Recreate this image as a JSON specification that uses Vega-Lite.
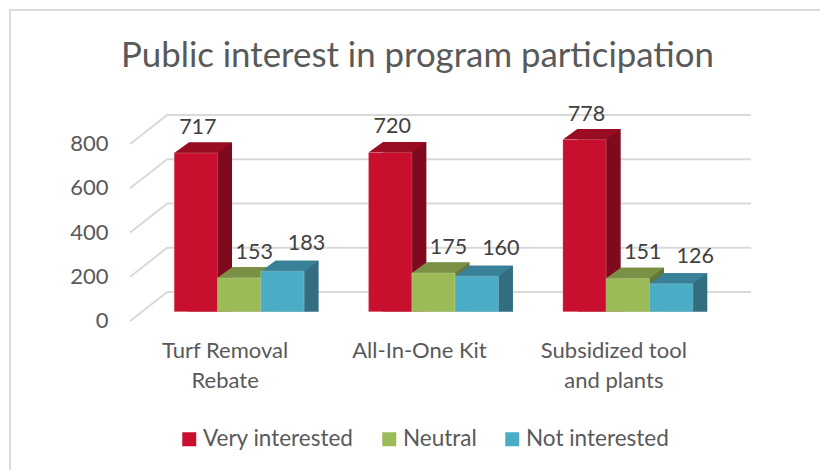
{
"$schema":"https://vega.github.io/schema/vega-lite/v6.json",
"width":815,"height":465,"autosize":"none","padding":{"left":10,"top":10,"right":0,"bottom":0},
"background":"white",
"title":{"text":"Public interest in program participation","font":"Lato","fontSize":34.8,"fontWeight":"normal","color":"#595959","anchor":"middle","frame":"group","baseline":"middle","offset":-45,"dy":37},
"config":{"view":{"stroke":"#dcdcdc","strokeWidth":2},"font":"Lato"},
"datasets":{
"rows":[
{"program":"Turf Removal Rebate","response":"Very interested","count":717},
{"program":"Turf Removal Rebate","response":"Neutral","count":153},
{"program":"Turf Removal Rebate","response":"Not interested","count":183},
{"program":"All-In-One Kit","response":"Very interested","count":720},
{"program":"All-In-One Kit","response":"Neutral","count":175},
{"program":"All-In-One Kit","response":"Not interested","count":160},
{"program":"Subsidized tool and plants","response":"Very interested","count":778},
{"program":"Subsidized tool and plants","response":"Neutral","count":151},
{"program":"Subsidized tool and plants","response":"Not interested","count":126}],
"ticks":[{"tick":0},{"tick":200},{"tick":400},{"tick":600},{"tick":800}]},
"resolve":{"scale":{"color":"independent"}},
"layer":[
{"data":{"name":"ticks"},
 "mark":{"type":"point","shape":"M-109,9.3L-72,-19.7L512,-19.7","size":4,"filled":false,"opacity":1,"stroke":"#d9d9d9","strokeWidth":2},
 "encoding":{"x":{"datum":"Turf Removal Rebate","type":"nominal","scale":{"domain":["Turf Removal Rebate","All-In-One Kit","Subsidized tool and plants"],"range":[132,715],"paddingInner":0.331,"paddingOuter":0.1655}},
  "y":{"field":"tick","type":"quantitative","scale":{"domain":[0,800],"range":[301.7,124.7],"nice":false},
   "axis":{"title":null,"orient":"left","offset":-132,"values":[0,200,400,600,800],"domain":false,"ticks":false,"grid":false,"labelPadding":34,"labelOffset":8.8,"labelFontSize":22,"labelColor":"#595959","labelFont":"Lato","labelBound":false,"labelFlush":false,"labelOverlap":false}}}},
{"data":{"name":"rows"},"transform":[{"filter":"datum.response=='Very interested'"}],"mark":{"type":"bar","width":43.3,"xOffset":-28.8,"yOffset":-10.5,"y2Offset":-10.5,"color":"#800a1d"},
 "encoding":{"x":{"field":"program","type":"nominal","scale":{"domain":["Turf Removal Rebate","All-In-One Kit","Subsidized tool and plants"],"range":[132,715],"paddingInner":0.331,"paddingOuter":0.1655}},"y":{"field":"count","type":"quantitative","stack":null}}},
{"data":{"name":"rows"},"transform":[{"filter":"datum.response=='Neutral'"}],"mark":{"type":"bar","width":43.3,"xOffset":14.5,"yOffset":-10.5,"y2Offset":-10.5,"color":"#65773a"},
 "encoding":{"x":{"field":"program","type":"nominal","scale":{"domain":["Turf Removal Rebate","All-In-One Kit","Subsidized tool and plants"],"range":[132,715],"paddingInner":0.331,"paddingOuter":0.1655}},"y":{"field":"count","type":"quantitative","stack":null}}},
{"data":{"name":"rows"},"transform":[{"filter":"datum.response=='Not interested'"}],"mark":{"type":"bar","width":43.3,"xOffset":57.8,"yOffset":-10.5,"y2Offset":-10.5,"color":"#336e80"},
 "encoding":{"x":{"field":"program","type":"nominal","scale":{"domain":["Turf Removal Rebate","All-In-One Kit","Subsidized tool and plants"],"range":[132,715],"paddingInner":0.331,"paddingOuter":0.1655}},"y":{"field":"count","type":"quantitative","stack":null}}},
{"data":{"name":"rows"},
 "resolve":{"scale":{"color":"independent"}},
 "encoding":{
  "x":{"field":"program","type":"nominal","scale":{"domain":["Turf Removal Rebate","All-In-One Kit","Subsidized tool and plants"],"range":[132,715],"paddingInner":0.331,"paddingOuter":0.1655},
    "axis":{"title":null,"orient":"bottom","offset":-124,"domain":false,"ticks":false,"grid":false,"labelAngle":0,"labelAlign":"center","labelOffset":-14,"labelPadding":-1,"labelFontSize":22,"labelColor":"#595959","labelFont":"Lato","labelLineHeight":30,"labelLimit":300,"labelBaseline":"middle","labelOverlap":false,"labelBound":false,"labelFlush":false,
      "labelExpr":"datum.label=='Turf Removal Rebate'?['Turf Removal','Rebate']:datum.label=='Subsidized tool and plants'?['Subsidized tool','and plants']:datum.label"}},
  "xOffset":{"field":"response","type":"nominal","scale":{"domain":["Very interested","Neutral","Not interested"],"paddingInner":0,"paddingOuter":0}},
  "y":{"field":"count","type":"quantitative","stack":null}
 },
 "layer":[
 {"mark":{"type":"point","shape":"M21.65,0L36.15,-10.5L21.65,-10.5Z","size":4,"filled":true,"opacity":1},
  "encoding":{"y":{"datum":0,"type":"quantitative"},"color":{"field":"response","type":"nominal","legend":null,"scale":{"domain":["Very interested","Neutral","Not interested"],"range":["#800a1d","#65773a","#336e80"]}}}},
 {"mark":{"type":"point","shape":"M-21.65,0L21.65,0L36.15,-10.5L-7.15,-10.5Z","size":4,"filled":true,"opacity":1},
  "encoding":{"color":{"field":"response","type":"nominal","legend":null,"scale":{"domain":["Very interested","Neutral","Not interested"],"range":["#990c22","#7a9045","#398198"]}}}},
 {"mark":{"type":"bar","stroke":"#ffffff","strokeOpacity":0.2,"strokeWidth":1},
  "encoding":{"color":{"field":"response","type":"nominal","scale":{"domain":["Very interested","Neutral","Not interested"],"range":["#c8102e","#9bbb59","#4bacc6"]},
   "legend":{"title":null,"orient":"none","legendX":168,"legendY":418,"direction":"horizontal","columns":3,"symbolType":"square","symbolSize":196,"symbolStrokeWidth":0,"symbolOpacity":1,"labelFontSize":22.5,"labelColor":"#595959","labelFont":"Lato","columnPadding":24,"labelOffset":2.5,"labelLimit":300,"gridAlign":"none"}}}},
 {"transform":[{"filter":"datum.response=='Very interested'"}],"mark":{"type":"text","fontSize":21.5,"color":"#404040","dx":2,"dy":-25,"baseline":"middle","align":"center"},"encoding":{"text":{"field":"count","type":"quantitative"}}},
 {"transform":[{"filter":"datum.response=='Neutral'"}],"mark":{"type":"text","fontSize":21.5,"color":"#404040","dx":15,"dy":-25,"baseline":"middle","align":"center"},"encoding":{"text":{"field":"count","type":"quantitative"}}},
 {"transform":[{"filter":"datum.response=='Not interested'"}],"mark":{"type":"text","fontSize":21.5,"color":"#404040","dx":24,"dy":-27,"baseline":"middle","align":"center"},"encoding":{"text":{"field":"count","type":"quantitative"}}}
 ]}
]}
